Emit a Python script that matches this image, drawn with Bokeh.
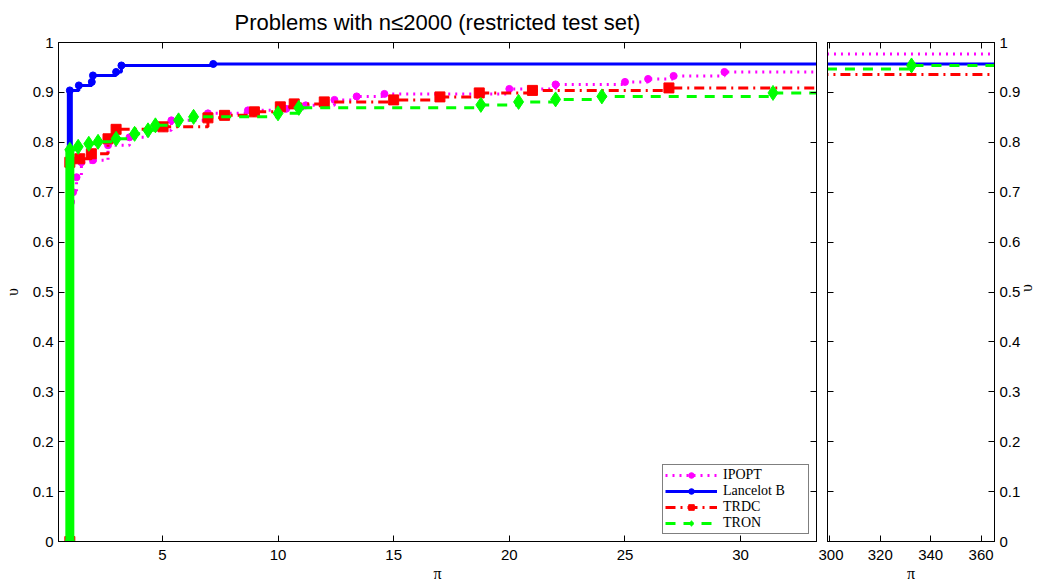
import math
from bokeh.plotting import figure
from bokeh.layouts import row
from bokeh.models import (Range1d, LinearAxis, FixedTicker, NumeralTickFormatter, Legend,
                          LegendItem)
from bokeh.embed import file_html
from bokeh.resources import INLINE

# ---------------- data ----------------
title_text = "Problems with n≤2000 (restricted test set)"
x_label = "π"
y_label = "υ"

solvers = ["IPOPT", "Lancelot B", "TRDC", "TRON"]

ipopt_tau = [1.0, 1.0, 1.05, 1.14, 1.29, 1.5, 2.0, 2.65, 3.58, 4.38, 5.39, 6.97, 8.7,
             10.35, 11.2, 12.44, 13.4, 14.6, 20.0, 22.0, 25.0, 26.0, 27.1, 29.3, 150.0, 370.0]
ipopt_frac = [0.0, 0.64, 0.68, 0.70, 0.73, 0.76, 0.764, 0.794, 0.81, 0.824, 0.844, 0.858, 0.864,
              0.867, 0.874, 0.885, 0.892, 0.897, 0.907, 0.916, 0.921, 0.927, 0.933, 0.941, 0.977, 0.977]

lancelot_tau = [1.0, 1.0, 1.39, 1.95, 2.0, 3.0, 3.23, 7.2, 370.0]
lancelot_frac = [0.0, 0.904, 0.914, 0.921, 0.934, 0.941, 0.954, 0.957, 0.957]

trdc_tau = [1.0, 1.0, 1.43, 1.93, 2.65, 3.0, 5.03, 6.97, 7.69, 8.98, 10.1, 10.7, 12.0,
            15.0, 17.0, 18.7, 21.0, 26.9, 200.0, 370.0]
trdc_frac = [0.0, 0.760, 0.767, 0.777, 0.807, 0.826, 0.831, 0.849, 0.854, 0.861, 0.871, 0.877, 0.881,
             0.885, 0.891, 0.899, 0.904, 0.909, 0.936, 0.936]

tron_tau = [1.0, 1.0, 1.36, 1.82, 2.22, 3.0, 3.8, 4.38, 4.7, 5.7, 6.35, 10.0, 10.9,
            18.77, 20.4, 22.0, 24.0, 31.4, 200.0, 332.4, 370.0]
tron_frac = [0.0, 0.785, 0.791, 0.797, 0.801, 0.807, 0.817, 0.824, 0.834, 0.844, 0.851, 0.858, 0.869,
             0.875, 0.881, 0.886, 0.892, 0.899, 0.947, 0.954, 0.954]

x_ticks_main = [5, 10, 15, 20, 25, 30]
x_ticks_tail = [300, 320, 340, 360]
y_ticks = [0, 0.1, 0.2, 0.3, 0.4, 0.5, 0.6, 0.7, 0.8, 0.9, 1.0]

# ---------------- styles ----------------
styles = [
    dict(color="#FF00FF", dash="2 5", lw=3, marker="circle", size=7, band=6),
    dict(color="#0000FF", dash="solid", lw=3, marker="circle", size=7, band=6),
    dict(color="#FF0000", dash="10 5 2 5", lw=3, marker="square", size=10, band=6),
    dict(color="#00FF00", dash="10 8", lw=3, marker="diamond", size=15, band=9),
]
series = [(ipopt_tau, ipopt_frac), (lancelot_tau, lancelot_frac),
          (trdc_tau, trdc_frac), (tron_tau, tron_frac)]

TICK_FONT = "15px"
SANS = "Liberation Sans"
SERIF = "Liberation Serif"
XR_MAIN = (0.51, 33.28)
XR_TAIL = (299.1, 365.3)


def style_axis(ax, ticks, show_labels, fmt=None):
    ax.ticker = FixedTicker(ticks=ticks)
    ax.major_tick_in = 6
    ax.major_tick_out = 0
    ax.minor_tick_line_color = None
    ax.axis_line_color = "black"
    ax.major_tick_line_color = "black"
    ax.major_label_text_font = SANS
    if fmt is not None:
        ax.formatter = fmt
    if show_labels:
        ax.major_label_text_color = "black"
        ax.major_label_text_font_size = TICK_FONT
        ax.major_label_standoff = 5
    else:
        ax.major_label_text_color = None
        ax.major_label_text_font_size = "0px"
        ax.major_label_standoff = 0


def style_label(ax, standoff):
    ax.axis_label_text_font = SERIF
    ax.axis_label_text_font_size = "16px"
    ax.axis_label_text_font_style = "normal"
    ax.axis_label_text_color = "black"
    ax.axis_label_standoff = standoff


def make_fig(width, xr, left_b, right_b, ylab_side, title=None):
    p = figure(width=width, height=584, x_range=Range1d(*xr), y_range=Range1d(0, 1),
               output_backend="svg", toolbar_location=None, y_axis_location=ylab_side,
               min_border_left=left_b, min_border_right=right_b,
               min_border_top=42, min_border_bottom=42, title=title)
    p.grid.visible = False
    p.outline_line_color = "black"
    p.outline_line_width = 1
    p.background_fill_color = "white"
    p.border_fill_color = "white"
    return p


def draw(p, tau, frac, st, band=True):
    if band:
        p.line(x=tau[:2], y=frac[:2], line_color=st["color"], line_width=st["band"])
    s = p.step(x=tau, y=frac, mode="after", line_color=st["color"], line_width=st["lw"],
               line_dash=st["dash"])
    m = p.scatter(x=tau, y=frac, marker=st["marker"], size=st["size"],
                  fill_color=st["color"], line_color=st["color"])
    return s, m


# ---------------- main panel ----------------
p1 = make_fig(818, XR_MAIN, 57, 2, "left", title=title_text)
p1.title.align = "center"
p1.title.text_font = SANS
p1.title.text_font_size = "22px"
p1.title.text_font_style = "normal"
p1.title.text_color = "black"
p1.title.standoff = 15

yfmt = NumeralTickFormatter(format="0.[0]")
style_axis(p1.xaxis[0], x_ticks_main, True)
p1.xaxis[0].major_label_standoff = 8
style_axis(p1.yaxis[0], y_ticks, True, yfmt)
p1.xaxis[0].axis_label = x_label
p1.yaxis[0].axis_label = y_label
style_label(p1.xaxis[0], 2)
style_label(p1.yaxis[0], 9)

top1 = LinearAxis()
style_axis(top1, x_ticks_main, False)
p1.add_layout(top1, "above")
right1 = LinearAxis()
style_axis(right1, y_ticks, False)
p1.add_layout(right1, "right")

items = []
for name, (tau, frac), st in zip(solvers, series, styles):
    s, m = draw(p1, tau, frac, st)
    items.append(LegendItem(label=name, renderers=[s, m]))

legend = Legend(items=items, location="bottom_right")
legend.label_text_font = SERIF
legend.label_text_font_size = "14px"
legend.label_text_color = "black"
legend.glyph_width = 52
legend.glyph_height = 14
legend.label_height = 14
legend.label_width = 83
legend.label_standoff = 6
legend.spacing = 0
legend.padding = 2
legend.margin = 7
legend.border_line_color = "black"
legend.border_line_width = 1.5
legend.background_fill_color = "white"
legend.background_fill_alpha = 1
p1.add_layout(legend)

# ---------------- tail panel ----------------
p2 = make_fig(228, XR_TAIL, 9, 51, "right")
style_axis(p2.xaxis[0], x_ticks_tail, True)
p2.xaxis[0].major_label_standoff = 8
style_axis(p2.yaxis[0], y_ticks, True, yfmt)
p2.xaxis[0].axis_label = x_label
p2.yaxis[0].axis_label = y_label
style_label(p2.xaxis[0], 2)
style_label(p2.yaxis[0], 3)
try:
    p2.yaxis[0].axis_label_orientation = math.pi / 2
except Exception:
    pass

top2 = LinearAxis()
style_axis(top2, x_ticks_tail, False)
p2.add_layout(top2, "above")
left2 = LinearAxis()
style_axis(left2, y_ticks, False)
p2.add_layout(left2, "left")

for (tau, frac), st in zip(series, styles):
    draw(p2, tau, frac, st, band=False)

layout = row(p1, p2)
open("out.html", "w").write(file_html(layout, INLINE))
